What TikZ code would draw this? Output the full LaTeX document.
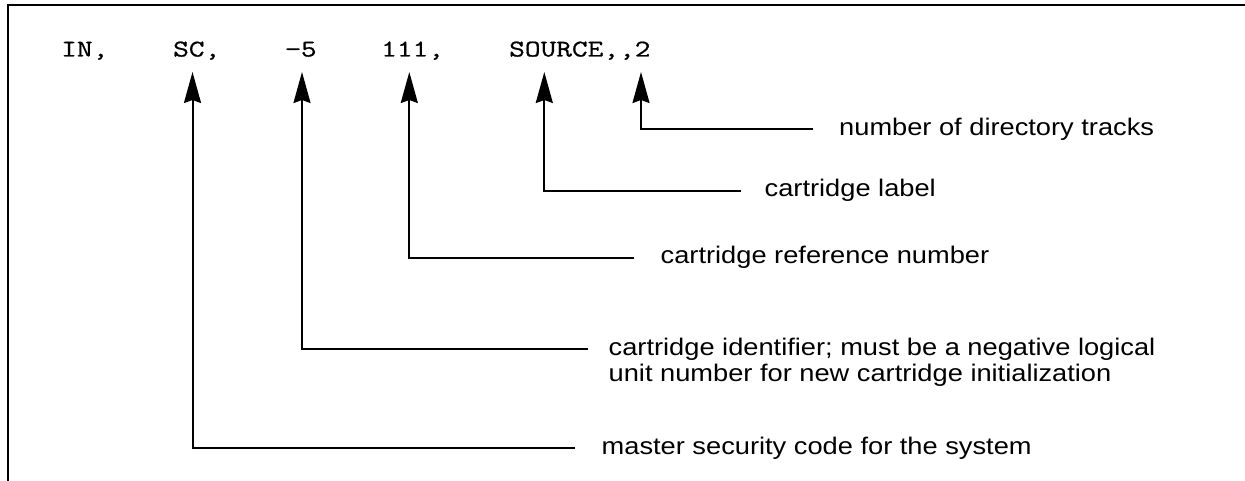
\documentclass[tikz,border=0pt]{standalone}
\usepackage{fontspec}
\usetikzlibrary{arrows.meta}
\newfontfamily\labelfont[FakeStretch=1.135]{Liberation Sans}
\newfontfamily\cmdfont[FakeStretch=1.27,FakeBold=0.8]{Latin Modern Mono}

\begin{document}
\begin{tikzpicture}[x=1pt,y=-1pt,
  cmd/.style={font=\cmdfont\fontsize{24}{26}\selectfont, inner sep=0pt, anchor=base west},
  lbl/.style={font=\labelfont\fontsize{24}{26.7}\selectfont, inner sep=0pt, anchor=base west},
  lead/.style={line width=2pt, -{Stealth[length=31pt,width=17pt,inset=3pt]}},
  frameline/.style={line width=2.5pt}]
\useasboundingbox (0,0) rectangle (1245,481);

% open frame: left and top edges only
\draw[frameline] (8,481) -- (8,5) -- (1245,5);

% the command line
\node[cmd] (cIN)  at (61,56.5)  {IN,};
\node[cmd] (cSC)  at (173,56.5) {SC,};
\node[cmd] (cID)  at (285,56.5) {−5};
\node[cmd] (cRF)  at (381,56.5) {111,};
\node[cmd] (cSRC) at (509,56.5) {SOURCE,,2};

% arrow tips under the parameters
\coordinate (tSC) at (192.5,72);
\coordinate (tID) at (302,72);
\coordinate (tRF) at (409.3,72);
\coordinate (tLB) at (544.3,72);
\coordinate (tTR) at (641,72);

% elbow ends of the leader lines
\coordinate (eTR) at (813,129.3);
\coordinate (eLB) at (741.3,190.7);
\coordinate (eRF) at (634.3,257.7);
\coordinate (eID) at (588,349.3);
\coordinate (eSC) at (575,448.3);

% descriptions
\node[lbl] (lTR)  at (839,135.3) {number of directory tracks};
\node[lbl] (lLB)  at (764.5,196.7) {cartridge label};
\node[lbl] (lRF)  at (660.5,263.7) {cartridge reference number};
\node[lbl] (lIDa) at (608.5,355) {cartridge identifier; must be a negative logical};
\node[lbl] (lIDb) at (608.5,381.7) {unit number for new cartridge initialization};
\node[lbl] (lSC)  at (601.5,454.5) {master security code for the system};

% leader lines
\draw[lead] (eTR) -| (tTR);
\draw[lead] (eLB) -| (tLB);
\draw[lead] (eRF) -| (tRF);
\draw[lead] (eID) -| (tID);
\draw[lead] (eSC) -| (tSC);
\end{tikzpicture}
\end{document}
